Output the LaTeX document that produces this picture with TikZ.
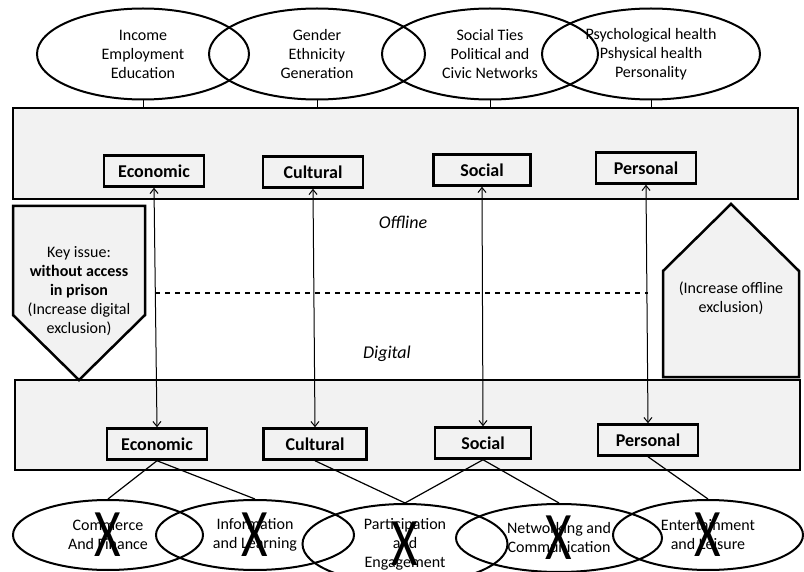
\documentclass[tikz,border=0pt]{standalone}
\usepackage{fontspec}
\setmainfont{Carlito}
\usetikzlibrary{shapes.geometric,arrows.meta}

\begin{document}
\begin{tikzpicture}[x=1pt,y=-1pt,
	ell/.style={ellipse,draw,line width=2pt,inner sep=0pt,align=center,font=\fontsize{16}{19}\selectfont},
	lbl/.style={draw,line width=2.5pt,fill=gray!10,inner sep=0pt,minimum width=100pt,minimum height=31pt,font=\fontsize{18}{20}\bfseries\selectfont},
	band/.style={draw,line width=2.5pt,fill=gray!10},
	cross/.style={inner sep=0pt,font=\fontsize{68}{68}\selectfont}]
			\useasboundingbox (0,0) rectangle (804,572);
			% the two layers
			\node[band,inner sep=0pt,minimum width=785pt,minimum height=91pt] (offbox) at (405.5,153.5) {};
			\node[band,inner sep=0pt,minimum width=785pt,minimum height=90pt] (digbox) at (407.5,425) {};
			% resources on top
			\node[ell,minimum width=212pt,minimum height=91pt] (econ) at (143,54) {Income\\Employment\\Education};
			\node[ell,minimum width=216pt,minimum height=91pt] (cult) at (317,54) {Gender\\Ethnicity\\Generation};
			\node[ell,minimum width=216pt,minimum height=91pt] (soc) at (490,54) {Social Ties\\Political and\\Civic Networks};
			\node[ell,minimum width=218pt,minimum height=91pt] (pers) at (651,54) {Psychological health\\Pshysical health\\Personality};
			\foreach \e in {econ,cult,soc,pers}
				\draw[line width=1pt] (\e.south) -- (\e.south |- offbox.north);
			% the key issue arrows
			\draw[band] (13,206) -- (145,206) -- (145,315) -- (79,380) -- (13,315) -- cycle;
			\node[align=center,font=\fontsize{16}{19}\selectfont] (keyissue) at (79,291) {Key issue:\\\textbf{without access}\\\textbf{in prison}\\(Increase digital\\exclusion)};
			\draw[band] (663,377) -- (663,271) -- (731,204) -- (799,271) -- (799,377) -- cycle;
			\node[align=center,font=\fontsize{16}{19}\selectfont] (offexcl) at (731,298) {(Increase offline\\exclusion)};
			% labels
			\node[lbl] (offecon) at (154,171) {Economic};
			\node[lbl] (offcult) at (313,172) {Cultural};
			\node[lbl,minimum width=97pt] (offsoc) at (482,170) {Social};
			\node[lbl] (offpers) at (646,168) {Personal};
			\node[lbl] (digecon) at (157,444) {Economic};
			\node[lbl,minimum width=103pt] (digcult) at (315,444) {Cultural};
			\node[lbl,minimum width=96pt] (digsoc) at (483,443) {Social};
			\node[lbl] (digpers) at (648,440) {Personal};
			\foreach \n in {econ,cult,soc,pers}
				\draw[line width=1pt,{Straight Barb[length=5pt,width=8pt]}-{Straight Barb[length=5pt,width=8pt]}] (off\n.south) -- (dig\n.north);
			\coordinate (dashl) at (155,293);
			\coordinate (dashr) at (648,293);
			\draw[line width=1.5pt,dash pattern=on 5pt off 5pt] (dashl) -- (dashr);
			\node[font=\fontsize{18}{20}\itshape\selectfont] (offline) at (403,222) {Offline};
			\node[font=\fontsize{18}{20}\itshape\selectfont] (digital) at (387,354) {Digital};
			% uses below
			\node[ell,minimum width=190pt,minimum height=70pt] (comm) at (108,535) {Commerce\\And Finance};
			\node[ell,minimum width=198pt,minimum height=70pt] (info) at (255,535) {Information\\and Learning};
			\node[ell,minimum width=205pt,minimum height=80pt] (part) at (405,544) {Participation\\and\\Engagement};
			\node[ell,minimum width=206pt,minimum height=68pt] (netw) at (559,538) {Networking and\\Communication};
			\node[ell,minimum width=190pt,minimum height=70pt] (ent) at (708,535) {Entertainment\\and Leisure};
			\draw[line width=1.2pt] (digecon.south) -- (comm.north);
			\draw[line width=1.2pt] (digecon.south) -- (info.north);
			\draw[line width=1.2pt] (digcult.south) -- (part.north);
			\draw[line width=1.2pt] (digsoc.south) -- (part.north);
			\draw[line width=1.2pt] (digsoc.south) -- (netw.north);
			\draw[line width=1.2pt] (digpers.south) -- (ent.north);
			\foreach \e in {comm,info,part,netw,ent}
				\node[cross] (x\e) at (\e) {\scalebox{0.75}[1]{X}};
			\end{tikzpicture}
\end{document}
